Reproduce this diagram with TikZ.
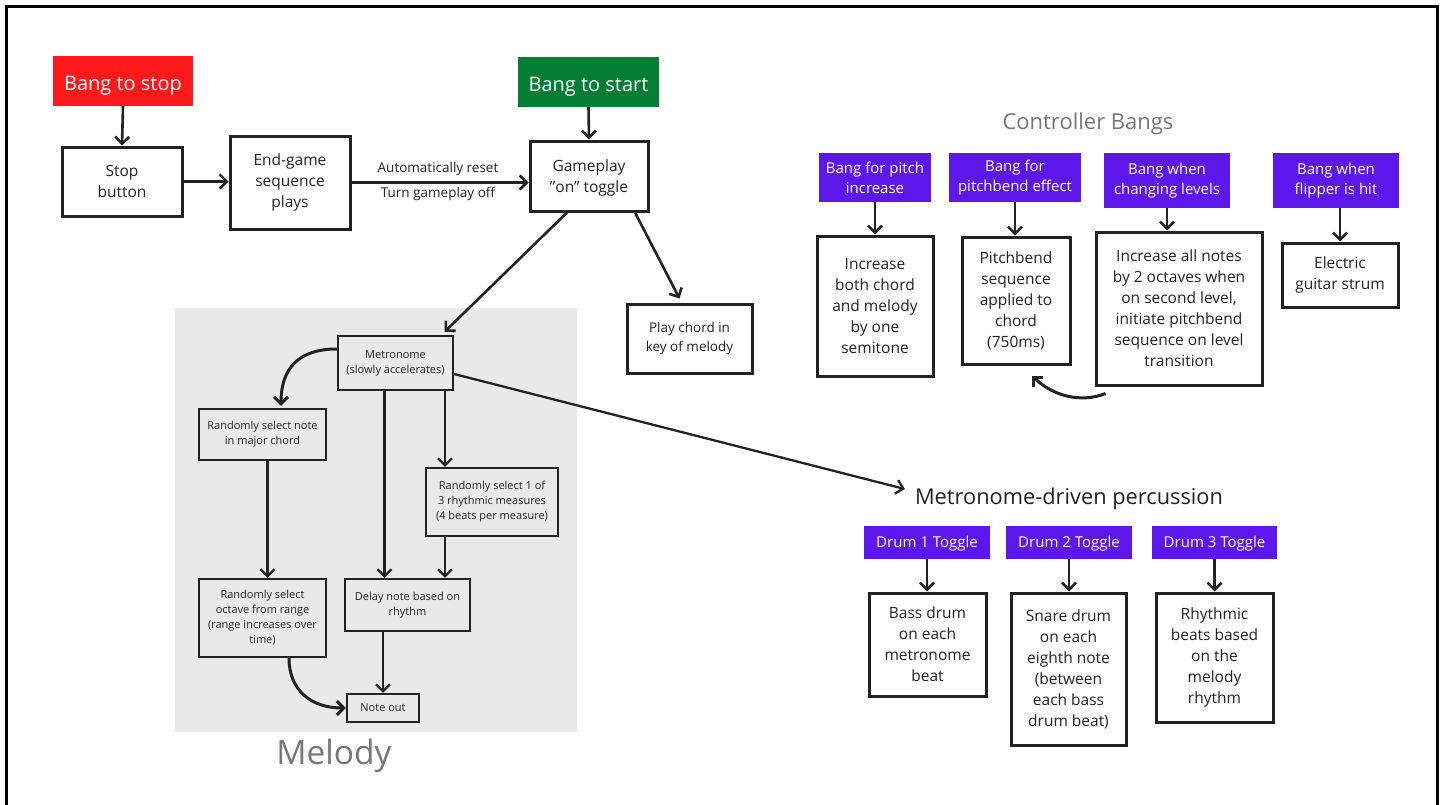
\documentclass[tikz,border=0pt]{standalone}
\usepackage{fontspec}
\setmainfont{Open Sans}
\usetikzlibrary{arrows.meta,calc}
\definecolor{bangred}{RGB}{255,26,26}
\definecolor{banggreen}{RGB}{3,125,52}
\definecolor{bangpurple}{RGB}{94,23,235}
\definecolor{melbg}{RGB}{233,233,233}
\definecolor{ink}{RGB}{34,34,34}
\definecolor{titlegray}{RGB}{119,119,119}
\begin{document}
\begin{tikzpicture}[x=1pt,y=-1pt,
  box/.style={draw=ink, line width=3pt, fill=white, inner sep=0pt, align=center, text=ink, font=\fontsize{15.5}{21}\selectfont},
  mbox/.style={draw=ink, line width=2.2pt, fill=melbg, inner sep=0pt, align=center, text=ink, font=\fontsize{11}{15}\selectfont},
  bang/.style={inner sep=0pt, align=center, text=white, text height=18pt, text depth=0pt, font=\fontsize{20}{24}\selectfont},
  pbang/.style={fill=bangpurple, inner sep=0pt, align=center, text=white, font=\fontsize{15}{20}\selectfont},
  dbang/.style={pbang, text depth=1pt},
  arr/.style={draw=ink, line width=2.6pt, -{Straight Barb[length=7pt,width=14pt]}},
  marr/.style={arr, line width=2.3pt},
  carr/.style={arr, line width=3pt},
  title/.style={inner sep=0pt, text=titlegray}
]
\useasboundingbox (0,0) rectangle (1445,804);
\clip (0,0) rectangle (1445,804);
\fill[white] (0,0) rectangle (1445,804);
\draw[line width=3pt, black] (6.5,6.5) rectangle (1437.5,830);

% Melody background
\fill[melbg] (175,308) rectangle (577,732);
\node[title, font=\fontsize{33.5}{36}\selectfont] (meltitle) at (334,756) {Melody};

% top row
\node[bang, fill=bangred, minimum width=140pt, minimum height=50pt] (stopbang) at (123,81) {Bang to stop};
\node[bang, fill=banggreen, minimum width=141pt, minimum height=50pt] (startbang) at (588.5,82) {Bang to start};
\node[box, minimum width=120pt, minimum height=69pt] (stopbtn) at (122,181.5) {Stop\\button};
\node[box, minimum width=120pt, minimum height=93pt] (endgame) at (290,182.5) {End-game\\sequence\\plays};
\node[box, minimum width=118pt, minimum height=70pt, text depth=0pt] (gameplay) at (589,176) {Gameplay\\{\char34}on{\char34} toggle};
\node[box, minimum width=125pt, minimum height=69pt, font=\fontsize{13.5}{19}\selectfont] (playchord) at (689.5,338.5) {Play chord in\\key of melody};

\node[inner sep=0pt, text=ink, font=\fontsize{13.5}{16}\selectfont] (lab1) at (438,169) {Automatically reset};
\node[inner sep=0pt, text=ink, font=\fontsize{13.5}{16}\selectfont] (lab2) at (438,194) {Turn gameplay off};

% melody nodes
\node[mbox, minimum width=115pt, minimum height=54pt] (metro) at (395.5,363) {Metronome\\(slowly accelerates)};
\node[mbox, minimum width=127pt, minimum height=51pt] (randnote) at (262.5,434.5) {Randomly select note\\in major chord};
\node[mbox, minimum width=132pt, minimum height=68pt] (rhythm) at (492,502) {Randomly select 1 of\\3 rhythmic measures\\(4 beats per measure)};
\node[mbox, minimum width=125pt, minimum height=52pt] (delay) at (407.5,605) {Delay note based on\\rhythm};
\node[mbox, minimum width=127pt, minimum height=78pt] (octave) at (262.5,618) {Randomly select\\octave from range\\(range increases over\\time)};
\node[mbox, minimum width=72pt, minimum height=28pt] (noteout) at (383,708) {Note out};

% percussion
\node[inner sep=0pt, text=ink, font=\fontsize{21.8}{24}\selectfont] (perc) at (1069,499) {Metronome-driven percussion};
\node[dbang, minimum width=126pt, minimum height=33pt] (drum1) at (927,542.5) {Drum 1 Toggle};
\node[dbang, minimum width=126pt, minimum height=33pt] (drum2) at (1069,542.5) {Drum 2 Toggle};
\node[dbang, minimum width=125pt, minimum height=33pt] (drum3) at (1214.5,542.5) {Drum 3 Toggle};
\node[box, minimum width=117pt, minimum height=103pt] (bass) at (927.5,644.5) {Bass drum\\on each\\metronome\\beat};
\node[box, minimum width=115pt, minimum height=152pt] (snare) at (1068.5,669) {Snare drum\\on each\\eighth note\\(between\\each bass\\drum beat)};
\node[box, minimum width=117pt, minimum height=129pt] (rhythmic) at (1214.5,657.5) {Rhythmic\\beats based\\on the\\melody\\rhythm};

% controller bangs
\node[title, font=\fontsize{22}{24}\selectfont] (ctitle) at (1088,124) {Controller Bangs};
\node[pbang, minimum width=112pt, minimum height=49pt] (cb1) at (875,177.5) {Bang for pitch\\increase};
\node[pbang, minimum width=132pt, minimum height=49pt] (cb2) at (1015,177.5) {Bang for\\pitchbend effect};
\node[pbang, minimum width=126pt, minimum height=55pt] (cb3) at (1167,180.5) {Bang when\\changing levels};
\node[pbang, minimum width=126pt, minimum height=55pt] (cb4) at (1336,180.5) {Bang when\\flipper is hit};
\node[box, minimum width=116pt, minimum height=140pt] (inc) at (875,306) {Increase\\both chord\\and melody\\by one\\semitone};
\node[box, minimum width=108pt, minimum height=127pt] (pbend) at (1016,300.5) {Pitchbend\\sequence\\applied to\\chord\\(750ms)};
\node[box, minimum width=166pt, minimum height=153pt] (incall) at (1179,308.5) {Increase all notes\\by 2 octaves when\\on second level,\\initiate pitchbend\\sequence on level\\transition};
\node[box, minimum width=116pt, minimum height=64pt] (electric) at (1340,275) {Electric\\guitar strum};

% top connectors
\draw[arr] (stopbang.south) -- (stopbtn.north);
\draw[arr] (stopbtn.east) -- (stopbtn.east -| endgame.west);
\draw[arr] (endgame.east) -- (endgame.east -| gameplay.west);
\draw[arr] (startbang.south) -- (gameplay.north);
\draw[arr] ($(gameplay.south)+(-22,0)$) -- ($(metro.north)+(49,-3)$);
\draw[arr] ($(gameplay.south)+(46,0)$) -- ($(playchord.north)+(-10,-4)$);

% melody connectors
\coordinate (m1) at ($(metro.south)+(-11,0)$);
\coordinate (m2) at ($(metro.south)+(49.5,0)$);
\coordinate (r1) at ($(randnote.south)+(5,0)$);
\draw[carr] ($(metro.west)+(0,-14)$) .. controls +(-38,0) and +(0,-38) .. ($(randnote.north)+(18.5,-2)$);
\draw[marr] (m1) -- (m1 |- delay.north);
\draw[marr] (m2) -- (m2 |- rhythm.north);
\draw[marr] (m2 |- rhythm.south) -- (m2 |- delay.north);
\draw[marr] (r1) -- (r1 |- octave.north);
\draw[marr] (noteout.north |- delay.south) -- (noteout.north);
\draw[carr] ($(octave.south)+(26.5,0)$) .. controls +(0,32) and +(-35,0) .. (noteout.west);
\draw[marr] ($(metro.east)+(0,11)$) -- ($(perc.west)+(-10,-10)$);

% percussion connectors
\draw[arr] (drum1.south) -- (drum1.south |- bass.north);
\draw[arr] (drum2.south) -- (drum2.south |- snare.north);
\draw[arr] (drum3.south) -- (drum3.south |- rhythmic.north);

% controller connectors
\coordinate (c4) at ($(cb4.south)+(4,0)$);
\draw[arr] (cb1.south) -- (cb1.south |- inc.north);
\draw[arr] (cb2.south) -- (cb2.south |- pbend.north);
\draw[arr] (cb3.south) -- (cb3.south |- incall.north);
\draw[arr] (c4) -- (c4 |- electric.north);
\draw[carr] ($(incall.south west)+(11,7)$) .. controls +(-25,10) and +(20,20) .. ($(pbend.south)+(16,10)$);
\end{tikzpicture}
\end{document}
